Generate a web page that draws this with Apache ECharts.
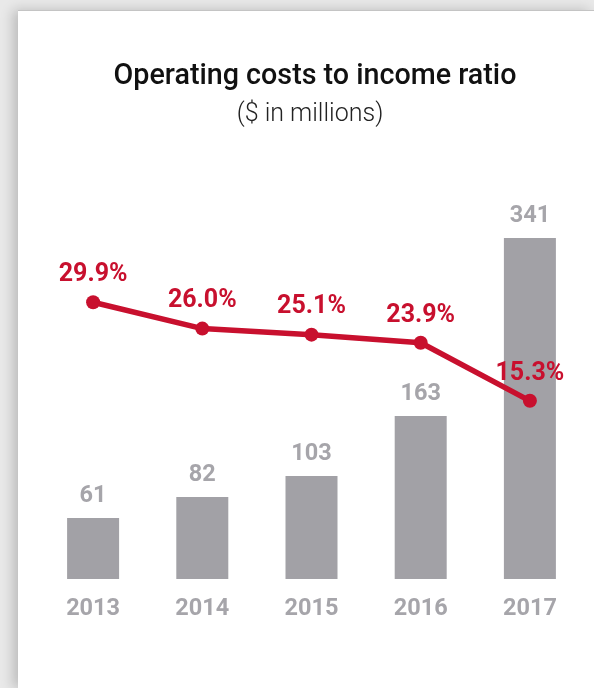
<!DOCTYPE html>
<html>
<head>
<meta charset="utf-8">
<script src="https://cdn.jsdelivr.net/npm/echarts@6/dist/echarts.min.js"></script>
<style>
  html, body { margin: 0; padding: 0; width: 594px; height: 688px; overflow: hidden; background: #e9e9e9; }
  #card { position: absolute; left: 18px; top: 10px; right: 0; bottom: 0; background: #fff;
          border-top: 1px solid #c4c4c4; box-shadow: -5px 0 12px rgba(0,0,0,0.2); }
  #chart { position: absolute; left: 0; top: 0; width: 594px; height: 688px; }
</style>
</head>
<body>
<div id="card"></div>
<div id="chart"></div>
<script>
// Operating costs ($ millions) and the cost-to-income ratio, by year
const years = ['2013', '2014', '2015', '2016', '2017'];
const operatingCosts = [61, 82, 103, 163, 341];
const costIncomeRatio = [29.9, 26.0, 25.1, 23.9, 15.3];

const RED = '#c8102e';
const GREY = '#a2a1a6';
const GREY_TEXT = '#a6a5aa';
const FONT = 'Roboto';

const chart = echarts.init(document.getElementById('chart'), null, { renderer: 'canvas' });

chart.setOption({
  backgroundColor: 'transparent',
  animation: false,
  title: [
    {
      text: 'Operating costs to income ratio',
      left: 310, top: 57, textAlign: 'center',
      textStyle: { fontFamily: FONT, fontWeight: 500, fontSize: 28.7, color: '#111' }
    },
    {
      text: '($ in millions)',
      left: 305, top: 97, textAlign: 'center',
      textStyle: { fontFamily: FONT, fontWeight: 300, fontSize: 25, color: '#222' }
    }
  ],
  grid: { left: 38.5, right: 9.5, top: 172, bottom: 109, containLabel: false },
  xAxis: {
    type: 'category',
    data: years,
    boundaryGap: true,
    axisLine: { show: false },
    axisTick: { show: false },
    axisLabel: {
      margin: 18,
      fontFamily: FONT, fontWeight: 'bold', fontSize: 23.5, color: GREY_TEXT
    }
  },
  yAxis: [
    { type: 'value', min: 0, max: 407, show: false, splitLine: { show: false } },
    { type: 'value', min: -11.1, max: 49.2, show: false, splitLine: { show: false } }
  ],
  series: [
    {
      name: 'Operating costs',
      type: 'bar',
      yAxisIndex: 0,
      data: operatingCosts,
      barWidth: 52,
      itemStyle: { color: GREY },
      label: {
        show: true, position: 'top', distance: 10,
        fontFamily: FONT, fontWeight: 'bold', fontSize: 23.5, color: GREY_TEXT
      },
      z: 1
    },
    {
      name: 'Cost to income ratio',
      type: 'line',
      yAxisIndex: 1,
      data: costIncomeRatio,
      symbol: 'circle',
      symbolSize: 14,
      lineStyle: { color: RED, width: 5.5 },
      itemStyle: { color: RED },
      label: {
        show: true, position: 'top', distance: 8,
        formatter: p => p.value.toFixed(1) + '%',
        fontFamily: FONT, fontWeight: 'bold', fontSize: 25, color: RED
      },
      z: 3
    }
  ]
});
</script>
</body>
</html>
